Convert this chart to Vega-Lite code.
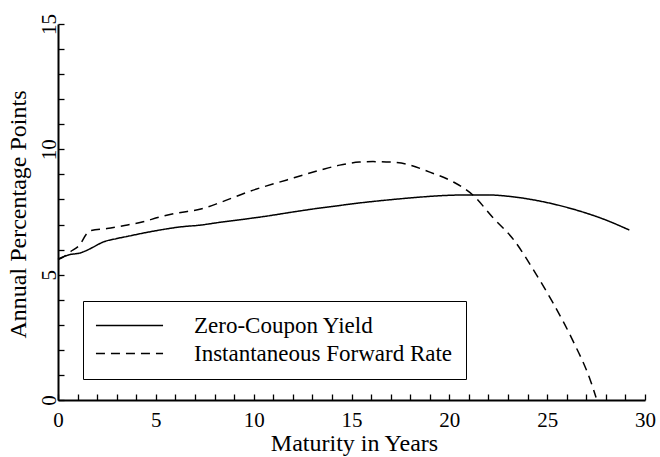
{
  "$schema": "https://vega.github.io/schema/vega-lite/v6.json",
  "width": 587,
  "height": 376,
  "autosize": {"type": "none"},
  "padding": {"left": 58, "top": 24, "right": 15, "bottom": 57},
  "background": "white",
  "config": {
    "view": {"stroke": null},
    "font": "Liberation Serif",
    "axis": {
      "grid": false,
      "domainColor": "black",
      "domainWidth": 2,
      "tickColor": "black",
      "tickWidth": 1.3,
      "tickSize": -6,
      "labelColor": "black",
      "titleColor": "black",
      "labelFont": "Liberation Serif",
      "titleFont": "Liberation Serif",
      "labelFontSize": 21,
      "titleFontSize": 24,
      "titleFontWeight": "normal",
      "labelFlush": false,
      "labelOverlap": false
    },
    "legend": {
      "orient": "none",
      "legendX": 25,
      "legendY": 277,
      "title": null,
      "strokeColor": "black",
      "fillColor": "white",
      "padding": 13,
      "labelFont": "Liberation Serif",
      "labelFontSize": 23,
      "labelColor": "black",
      "labelLimit": 500,
      "symbolType": "M-5,0H5",
      "symbolSize": 180,
      "symbolStrokeWidth": 1.5,
      "symbolStrokeColor": "black",
      "symbolOffset": 22,
      "labelOffset": 53,
      "rowPadding": 4
    }
  },
  "data": {
    "values": [
      {"series": "Zero-Coupon Yield", "maturity": 0.0, "rate": 5.62},
      {"series": "Zero-Coupon Yield", "maturity": 0.3, "rate": 5.72},
      {"series": "Zero-Coupon Yield", "maturity": 0.6, "rate": 5.8},
      {"series": "Zero-Coupon Yield", "maturity": 1.1, "rate": 5.86},
      {"series": "Zero-Coupon Yield", "maturity": 1.5, "rate": 5.98},
      {"series": "Zero-Coupon Yield", "maturity": 1.8, "rate": 6.1},
      {"series": "Zero-Coupon Yield", "maturity": 2.3, "rate": 6.3},
      {"series": "Zero-Coupon Yield", "maturity": 3.0, "rate": 6.44},
      {"series": "Zero-Coupon Yield", "maturity": 3.5, "rate": 6.52},
      {"series": "Zero-Coupon Yield", "maturity": 4.5, "rate": 6.68},
      {"series": "Zero-Coupon Yield", "maturity": 5.2, "rate": 6.78},
      {"series": "Zero-Coupon Yield", "maturity": 6.2, "rate": 6.9},
      {"series": "Zero-Coupon Yield", "maturity": 7.3, "rate": 6.98},
      {"series": "Zero-Coupon Yield", "maturity": 8.2, "rate": 7.08},
      {"series": "Zero-Coupon Yield", "maturity": 9.2, "rate": 7.18},
      {"series": "Zero-Coupon Yield", "maturity": 10.7, "rate": 7.34},
      {"series": "Zero-Coupon Yield", "maturity": 12.0, "rate": 7.5},
      {"series": "Zero-Coupon Yield", "maturity": 13.4, "rate": 7.66},
      {"series": "Zero-Coupon Yield", "maturity": 14.4, "rate": 7.76},
      {"series": "Zero-Coupon Yield", "maturity": 15.4, "rate": 7.86},
      {"series": "Zero-Coupon Yield", "maturity": 16.1, "rate": 7.92},
      {"series": "Zero-Coupon Yield", "maturity": 17.4, "rate": 8.02},
      {"series": "Zero-Coupon Yield", "maturity": 18.6, "rate": 8.1},
      {"series": "Zero-Coupon Yield", "maturity": 19.8, "rate": 8.16},
      {"series": "Zero-Coupon Yield", "maturity": 20.9, "rate": 8.18},
      {"series": "Zero-Coupon Yield", "maturity": 22.0, "rate": 8.18},
      {"series": "Zero-Coupon Yield", "maturity": 23.1, "rate": 8.12},
      {"series": "Zero-Coupon Yield", "maturity": 24.6, "rate": 7.94},
      {"series": "Zero-Coupon Yield", "maturity": 26.3, "rate": 7.62},
      {"series": "Zero-Coupon Yield", "maturity": 28.0, "rate": 7.18},
      {"series": "Zero-Coupon Yield", "maturity": 29.2, "rate": 6.78},
      {"series": "Instantaneous Forward Rate", "maturity": 0.0, "rate": 5.6},
      {"series": "Instantaneous Forward Rate", "maturity": 0.3, "rate": 5.72},
      {"series": "Instantaneous Forward Rate", "maturity": 0.6, "rate": 5.9},
      {"series": "Instantaneous Forward Rate", "maturity": 1.1, "rate": 6.18},
      {"series": "Instantaneous Forward Rate", "maturity": 1.5, "rate": 6.66},
      {"series": "Instantaneous Forward Rate", "maturity": 1.7, "rate": 6.76},
      {"series": "Instantaneous Forward Rate", "maturity": 2.5, "rate": 6.84},
      {"series": "Instantaneous Forward Rate", "maturity": 3.4, "rate": 6.96},
      {"series": "Instantaneous Forward Rate", "maturity": 4.3, "rate": 7.1},
      {"series": "Instantaneous Forward Rate", "maturity": 5.2, "rate": 7.3},
      {"series": "Instantaneous Forward Rate", "maturity": 6.1, "rate": 7.46},
      {"series": "Instantaneous Forward Rate", "maturity": 7.3, "rate": 7.62},
      {"series": "Instantaneous Forward Rate", "maturity": 8.3, "rate": 7.88},
      {"series": "Instantaneous Forward Rate", "maturity": 9.7, "rate": 8.3},
      {"series": "Instantaneous Forward Rate", "maturity": 11.7, "rate": 8.78},
      {"series": "Instantaneous Forward Rate", "maturity": 13.4, "rate": 9.17},
      {"series": "Instantaneous Forward Rate", "maturity": 14.4, "rate": 9.37},
      {"series": "Instantaneous Forward Rate", "maturity": 15.4, "rate": 9.49},
      {"series": "Instantaneous Forward Rate", "maturity": 16.1, "rate": 9.51},
      {"series": "Instantaneous Forward Rate", "maturity": 17.0, "rate": 9.49},
      {"series": "Instantaneous Forward Rate", "maturity": 17.8, "rate": 9.41},
      {"series": "Instantaneous Forward Rate", "maturity": 19.0, "rate": 9.09},
      {"series": "Instantaneous Forward Rate", "maturity": 20.2, "rate": 8.7},
      {"series": "Instantaneous Forward Rate", "maturity": 21.2, "rate": 8.18},
      {"series": "Instantaneous Forward Rate", "maturity": 22.2, "rate": 7.3},
      {"series": "Instantaneous Forward Rate", "maturity": 23.3, "rate": 6.38},
      {"series": "Instantaneous Forward Rate", "maturity": 24.3, "rate": 5.19},
      {"series": "Instantaneous Forward Rate", "maturity": 25.3, "rate": 3.87},
      {"series": "Instantaneous Forward Rate", "maturity": 26.3, "rate": 2.39},
      {"series": "Instantaneous Forward Rate", "maturity": 27.2, "rate": 0.8},
      {"series": "Instantaneous Forward Rate", "maturity": 27.5, "rate": 0.1}
    ]
  },
  "mark": {"type": "line", "strokeWidth": 1.5, "color": "black", "interpolate": "monotone"},
  "encoding": {
    "x": {
      "field": "maturity",
      "type": "quantitative",
      "scale": {"domain": [0, 30], "nice": false, "zero": false},
      "axis": {
        "title": "Maturity in Years",
        "values": [0,1,2,3,4,5,6,7,8,9,10,11,12,13,14,15,16,17,18,19,20,21,22,23,24,25,26,27,28,29,30],
        "labelExpr": "datum.value % 5 === 0 ? datum.label : ''",
        "labelPadding": 15,
        "titleX": 296,
        "titleY": 50,
        "titleBaseline": "alphabetic"
      }
    },
    "y": {
      "field": "rate",
      "type": "quantitative",
      "scale": {"domain": [0, 15], "nice": false},
      "axis": {
        "title": "Annual Percentage Points",
        "values": [0,1,2,3,4,5,6,7,8,9,10,11,12,13,14,15],
        "labelExpr": "datum.value % 5 === 0 ? datum.label : ''",
        "labelAngle": -90,
        "labelAlign": "center",
        "labelBaseline": "alphabetic",
        "labelPadding": 9,
        "titleAngle": -90,
        "titleX": -33,
        "titleY": 190,
        "titleAlign": "center",
        "titleBaseline": "alphabetic"
      }
    },
    "strokeDash": {
      "field": "series",
      "type": "nominal",
      "scale": {
        "domain": ["Zero-Coupon Yield", "Instantaneous Forward Rate"],
        "range": [[1, 0], [9, 6]]
      },
      "legend": {}
    }
  }
}
